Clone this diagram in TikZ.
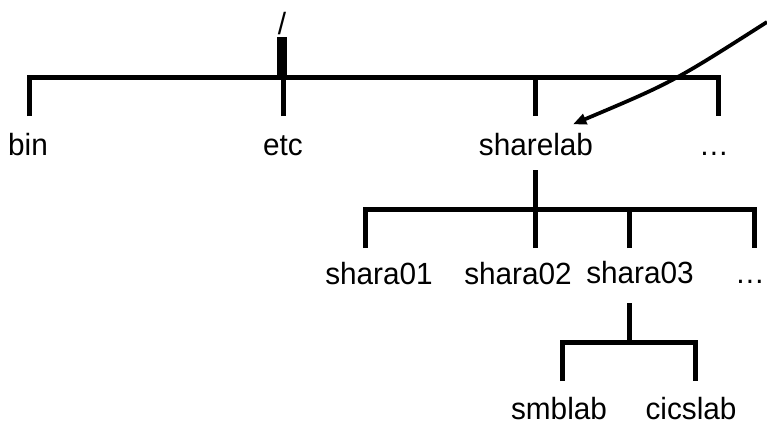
\documentclass[tikz,border=0pt]{standalone}
\usepackage{fontspec}
\setmainfont{Liberation Sans}
\newfontfamily\dirfont[FakeStretch=0.97]{Liberation Sans}
\usetikzlibrary{arrows.meta}

\tikzset{every picture/.style={line width=0.75pt}}
\tikzset{
  dirlabel/.style={inner sep=0pt, anchor=base, font=\dirfont\fontsize{23}{27}\selectfont},
  branch/.style={line width=3.75pt},
}

\begin{document}
\begin{tikzpicture}[x=0.75pt, y=0.75pt, yscale=-1, xscale=1]
    \useasboundingbox (0,0) rectangle (767,425);

    % Labels: root and first level
    \node [dirlabel] (root)     at (282, 34) {/};
    \node [dirlabel] (bin)      at ( 28,155) {bin};
    \node [dirlabel] (etc)      at (283,155) {etc};
    \node [dirlabel] (sharelab) at (536,155) {sharelab};
    \node [dirlabel] (dotsA)    at (714,155) {…};

    % Labels: second level
    \node [dirlabel] (shara01)  at (379,284) {shara01};
    \node [dirlabel] (shara02)  at (518,284) {shara02};
    \node [dirlabel] (shara03)  at (640,283) {shara03};
    \node [dirlabel] (dotsB)    at (750,283) {…};

    % Labels: third level
    \node [dirlabel] (smblab)   at (559,419) {smblab};
    \node [dirlabel] (cicslab)  at (691,419) {cicslab};

    % Branch points
    \coordinate (rootStub) at (282, 37);
    \coordinate (rootBar)  at (282, 77);
    \coordinate (binEnd)   at ( 29,116);
    \coordinate (etcEnd)   at (283,116);
    \coordinate (shareEnd) at (535,116);
    \coordinate (dotsAEnd) at (718,116);

    \coordinate (shareOut) at (535,170);
    \coordinate (shareBar) at (535,209);
    \coordinate (s01End)   at (365,248);
    \coordinate (s02End)   at (535,248);
    \coordinate (s03End)   at (629,248);
    \coordinate (dotsBEnd) at (754,248);

    \coordinate (s03Out)   at (629,303);
    \coordinate (s03Bar)   at (629,342);
    \coordinate (smbEnd)   at (562,381);
    \coordinate (cicsEnd)  at (695,381);

    \coordinate (arrowStart) at (767, 22);

    % Line root - first level
    \draw [line width=7.5pt] (rootStub) -- (rootBar);
    \draw [branch] (binEnd) -- (binEnd |- rootBar) -- (dotsAEnd |- rootBar) -- (dotsAEnd);
    \draw [branch] (etcEnd) -- (etcEnd |- rootBar);
    \draw [branch] (shareEnd) -- (shareEnd |- rootBar);

    % Line sharelab - second level
    \draw [branch] (shareOut) -- (shareBar);
    \draw [branch] (s01End) -- (s01End |- shareBar) -- (dotsBEnd |- shareBar) -- (dotsBEnd);
    \draw [branch] (s02End) -- (s02End |- shareBar);
    \draw [branch] (s03End) -- (s03End |- shareBar);

    % Line shara03 - third level
    \draw [branch] (s03Out) -- (s03Bar);
    \draw [branch] (smbEnd) -- (smbEnd |- s03Bar) -- (cicsEnd |- s03Bar) -- (cicsEnd);

    % Pointer to sharelab
    \draw [line width=2.8pt, -{Triangle[length=10pt, width=8pt]}]
          (arrowStart) .. controls (673,82) .. ([shift={(37,-8)}]sharelab.north);

\end{tikzpicture}
\end{document}
